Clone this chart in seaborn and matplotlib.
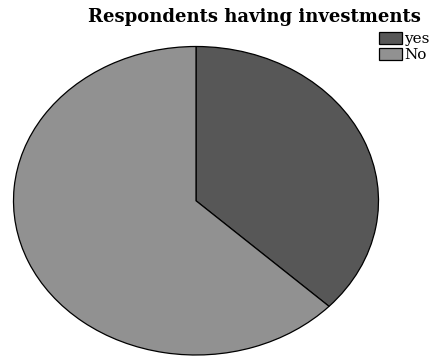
import matplotlib
matplotlib.use("Agg")
import matplotlib.pyplot as plt
import seaborn as sns

categories = ["yes", "No"]
values = [37, 63]
colors = ["#575757", "#919191"]
title = "Respondents having investments"

sns.set_theme(style="white")
plt.rcParams['font.family'] = ['DejaVu Serif']

W, H = 436, 358
fig = plt.figure(figsize=(W / 100, H / 100), dpi=100)
fig.patch.set_facecolor("white")
left, right, top, bottom = 13.5, 378.5, 46.5, 355
ax = fig.add_axes([left / W, (H - bottom) / H, (right - left) / W, (bottom - top) / H])
wedges, _ = ax.pie(values, colors=colors, startangle=90, counterclock=False,
                   wedgeprops=dict(edgecolor="black", linewidth=0.9))
ax.set_aspect('auto')
ax.set_xlim(-1, 1)
ax.set_ylim(-1, 1)
ax.axis('off')

fig.text(254 / W, 1 - 17 / H, title, ha='center', va='center',
         fontsize=13, fontweight='bold', family='DejaVu Serif', color='black')

leg = fig.legend(wedges, categories, loc='upper left', bbox_to_anchor=(379 / W, 1 - 32 / H),
                 frameon=False, fontsize=11, handlelength=1.5, handleheight=0.85,
                 handletextpad=0.15, labelspacing=0.1, borderpad=0, borderaxespad=0)
for t in leg.get_texts():
    t.set_family('DejaVu Serif')
    t.set_color('black')

fig.savefig("out.png", dpi=100, facecolor="white")
